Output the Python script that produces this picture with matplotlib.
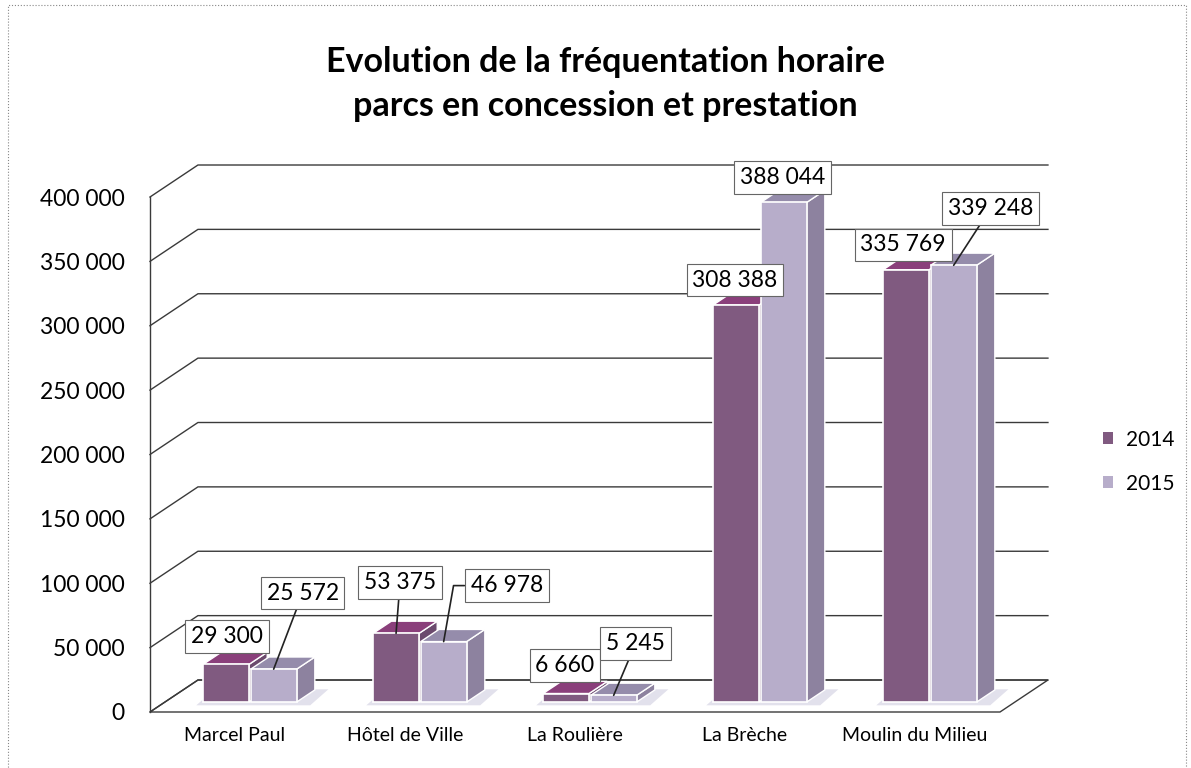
import matplotlib.pyplot as plt
from matplotlib.patches import Polygon, Patch, Rectangle

plt.rcParams['font.family'] = ['Lato', 'DejaVu Sans']

# data
categories = ['Marcel Paul', 'Hôtel de Ville', 'La Roulière', 'La Brèche', 'Moulin du Milieu']
years = ['2014', '2015']
v2014 = [29300, 53375, 6660, 308388, 335769]
v2015 = [25572, 46978, 5245, 388044, 339248]
yticks = [0, 50000, 100000, 150000, 200000, 250000, 300000, 350000, 400000]
ytick_labels = ['0', '50 000', '100 000', '150 000', '200 000',
                '250 000', '300 000', '350 000', '400 000']

# label placement (pixel offsets from the bar top) and leader lines
label_off = [
    [(1, 28), (4, 51), (-1, 28), (-1, 25), (-3, 25)],
    [(29, 76), (63, 56), (22, 52), (-1, 25), (37, 57)],
]
leaders = [
    [None, 'arc3', None, None, None],
    ['arc3', 'angle,angleA=0,angleB=80,rad=0', 'arc3', None, 'arc3'],
]

# colours: front, top, side
front_c = ['#805a80', '#b7adca']
top_c = ['#8a3f7b', '#958cab']
side_c = ['#6b4a6d', '#8d829f']

# fake 3d depth (full depth of the floor, in data units)
DX, DY = 0.282, 24850
BAR_POS = 0.31      # where the bar front sits inside the depth
BAR_DEPTH = 0.38    # bar depth as part of the full depth
W = 0.27
offsets = [-0.14, 0.14]

fig = plt.figure(figsize=(11.91, 7.68), dpi=100)
ax = fig.add_axes([150 / 1191, 56 / 768, 850 / 1191, 515 / 768])
ax.set_xlim(-0.5, 4.5)
ax.set_ylim(0, 400000)

for sp in ['top', 'right', 'bottom']:
    ax.spines[sp].set_visible(False)
ax.spines['left'].set_color('#3a3a3a')
ax.spines['left'].set_linewidth(1)

ax.set_yticks(yticks, ytick_labels, fontsize=16.5)
ax.tick_params(axis='y', length=0, pad=18)
ax.set_xticks(range(len(categories)), categories, fontsize=14)
ax.tick_params(axis='x', length=0, pad=11)

# floor
floor = Polygon([(-0.5, 0), (4.5, 0), (4.5 + DX, DY), (-0.5 + DX, DY)],
                facecolor='white', edgecolor='#3a3a3a', lw=1, zorder=0.5, clip_on=False)
ax.add_patch(floor)

# side wall diagonals + back wall gridlines
for t in yticks:
    ax.plot([-0.5, -0.5 + DX, 4.5 + DX], [t, t + DY, t + DY],
            color='#3a3a3a', lw=1, zorder=1, clip_on=False)

fx, fy = BAR_POS * DX, BAR_POS * DY
bx, by = BAR_DEPTH * DX, BAR_DEPTH * DY

# light shadow on the floor below each group
for i in range(len(categories)):
    xl = i + offsets[0] + fx - W / 2 - 0.04
    xr = i + offsets[1] + fx + W / 2 + 0.08
    sh = Polygon([(xl, fy - 2500), (xr, fy - 2500), (xr + bx, fy + by + 500), (xl + bx, fy + by + 500)],
                 facecolor='#e2e1ec', edgecolor='none', zorder=1.5, clip_on=False)
    ax.add_patch(sh)

z = 2
for s, vals in enumerate([v2014, v2015]):
    xs = [i + offsets[s] + fx for i in range(len(vals))]
    for x, v in zip(xs, vals):
        xl, xr = x - W / 2, x + W / 2
        top = fy + v
        ax.add_patch(Polygon([(xr, fy), (xr + bx, fy + by), (xr + bx, top + by), (xr, top)],
                             facecolor=side_c[s], edgecolor='white', lw=1, zorder=z, clip_on=False))
        ax.add_patch(Polygon([(xl, top), (xr, top), (xr + bx, top + by), (xl + bx, top + by)],
                             facecolor=top_c[s], edgecolor='white', lw=1, zorder=z, clip_on=False))
    ax.bar(xs, vals, width=W, bottom=fy, color=front_c[s], edgecolor='white',
           lw=1.2, zorder=z + 1, clip_on=False)
    z += 2

# data labels
for s, vals in enumerate([v2014, v2015]):
    for i, v in enumerate(vals):
        txt = f"{v:,}".replace(',', ' ')
        conn = leaders[s][i]
        arrow = None
        if conn:
            arrow = dict(arrowstyle='-', color='#222222', lw=1.2, shrinkA=0, shrinkB=0,
                         connectionstyle=conn)
        ax.annotate(txt, xy=(i + offsets[s] + fx, fy + v), xytext=label_off[s][i],
                    textcoords='offset pixels', ha='center', va='center', fontsize=16.5,
                    bbox=dict(boxstyle='square,pad=0.25', fc='white', ec='#666666', lw=0.8),
                    arrowprops=arrow, zorder=10, annotation_clip=False)

# legend
handles = [Patch(facecolor=front_c[0]), Patch(facecolor=front_c[1])]
fig.legend(handles, years, loc='upper left', bbox_to_anchor=(1084 / 1191, 1 - 411 / 768),
           frameon=False, fontsize=15, handlelength=0.5, handleheight=0.5,
           handletextpad=0.6, labelspacing=1.15)

# title
fig.text(0.508, 1 - 84 / 768, 'Evolution de la fréquentation horaire\nparcs en concession et prestation',
         ha='center', va='center', fontsize=24.5, fontweight='bold', linespacing=1.5)

# chart border
fig.patches.append(Rectangle((8 / 1191, -0.01), 1178 / 1191, 1.01 - 5 / 768, transform=fig.transFigure,
                             fill=False, ec='#888888', lw=0.8, ls=':'))

fig.savefig('out.png', dpi=100)
